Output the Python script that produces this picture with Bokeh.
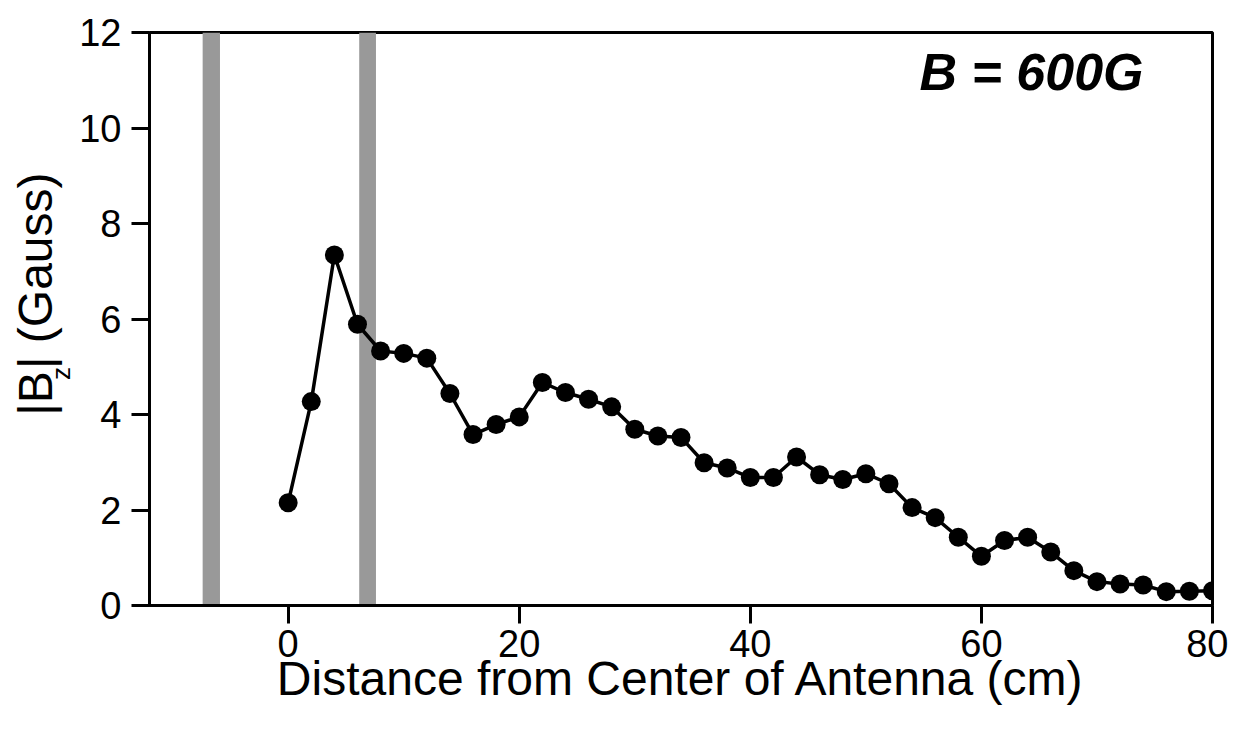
import math
from bokeh.plotting import figure
from bokeh.models import Label, FixedTicker, Range1d
from bokeh.layouts import row
from bokeh.embed import file_html
from bokeh.resources import INLINE

# ---- data ----
distance_cm = [0, 2, 4, 6, 8, 10, 12, 14, 16, 18, 20, 22, 24, 26, 28, 30, 32, 34, 36, 38,
               40, 42, 44, 46, 48, 50, 52, 54, 56, 58, 60, 62, 64, 66, 68, 70, 72, 74, 76, 78, 80]
bz_gauss = [2.15, 4.27, 7.34, 5.89, 5.33, 5.28, 5.18, 4.44, 3.58, 3.79, 3.95, 4.67, 4.46, 4.32,
            4.16, 3.69, 3.55, 3.52, 2.99, 2.88, 2.68, 2.68, 3.11, 2.74, 2.64, 2.76, 2.55, 2.05,
            1.84, 1.43, 1.03, 1.36, 1.43, 1.12, 0.73, 0.50, 0.45, 0.43, 0.29, 0.30, 0.31]
antenna_left = [-7.4, 6.15]
antenna_right = [-5.9, 7.6]
x_ticks = [0, 20, 40, 60, 80]
y_ticks = [0, 2, 4, 6, 8, 10, 12]
x_title = "Distance from Center of Antenna (cm)"
y_title_parts = ["|B", "z", "| (Gauss)"]
field_label = "B = 600G"

FONT = "Liberation Sans"
H = 722
LW = 76  # width of the strip that carries the y title
SHIFT = 43  # empirical offset of rotated labels along their direction

# ---- strip for the y-axis title (with subscript) ----
lab = figure(width=LW, height=H, x_range=Range1d(0, LW), y_range=Range1d(0, H),
             output_backend="svg", toolbar_location=None, title=None,
             x_axis_type=None, y_axis_type=None,
             min_border_left=0, min_border_right=0, min_border_top=0, min_border_bottom=0)
lab.outline_line_color = None
lab.grid.visible = False
lab.background_fill_color = "white"
lab.border_fill_color = "white"

common = dict(angle=math.pi / 2, angle_units="rad", text_font=FONT, text_color="black",
              text_align="left", text_baseline="middle")
# start of each piece (page pixels: x across = middle line, y = start along the text)
lab.add_layout(Label(x=35, y=H - (440 + SHIFT), text=y_title_parts[0], text_font_size="48px", **common))
lab.add_layout(Label(x=60, y=H - (395 + SHIFT), text=y_title_parts[1], text_font_size="26px", **common))
lab.add_layout(Label(x=35, y=H - (381 + SHIFT), text=y_title_parts[2], text_font_size="48px", **common))

# ---- main plot ----
p = figure(width=1228 - LW, height=H, x_range=Range1d(-12, 80), y_range=Range1d(0, 12),
           output_backend="svg", toolbar_location=None,
           min_border_left=146 - LW, min_border_right=16, min_border_top=32, min_border_bottom=117)

p.background_fill_color = "white"
p.border_fill_color = "white"
p.outline_line_color = "black"
p.outline_line_width = 3
p.outline_line_alpha = 1.0
p.grid.visible = False

# antenna bars
p.quad(left=antenna_left, right=antenna_right, bottom=0, top=12,
       fill_color="#999999", line_color=None)

# data
p.line(distance_cm, bz_gauss, line_color="black", line_width=3.5)
p.scatter(distance_cm, bz_gauss, size=19, fill_color="black", line_color=None)

# axes
for ax in (p.xaxis[0], p.yaxis[0]):
    ax.axis_line_color = "black"
    ax.axis_line_width = 3
    ax.major_tick_line_color = "black"
    ax.major_tick_line_width = 3
    ax.major_tick_out = 18
    ax.major_tick_in = 0
    ax.minor_tick_line_color = None
    ax.major_label_text_font = FONT
    ax.major_label_text_font_size = "38px"
    ax.major_label_text_color = "black"

p.xaxis.ticker = FixedTicker(ticks=x_ticks)
p.yaxis.ticker = FixedTicker(ticks=y_ticks)
p.xaxis.major_label_standoff = 6
p.yaxis.major_label_standoff = 10
p.xaxis.axis_label = x_title
p.xaxis.axis_label_text_font = FONT
p.xaxis.axis_label_text_font_size = "48px"
p.xaxis.axis_label_text_font_style = "normal"
p.xaxis.axis_label_text_color = "black"
p.xaxis.axis_label_standoff = -8

# field annotation
p.add_layout(Label(x=994, y=605 - 71, x_units="screen", y_units="screen", text=field_label,
                   text_font=FONT, text_font_size="52px", text_font_style="bold italic",
                   text_color="black", text_align="right", text_baseline="middle"))

layout = row(lab, p)
open("out.html", "w").write(file_html(layout, INLINE))
